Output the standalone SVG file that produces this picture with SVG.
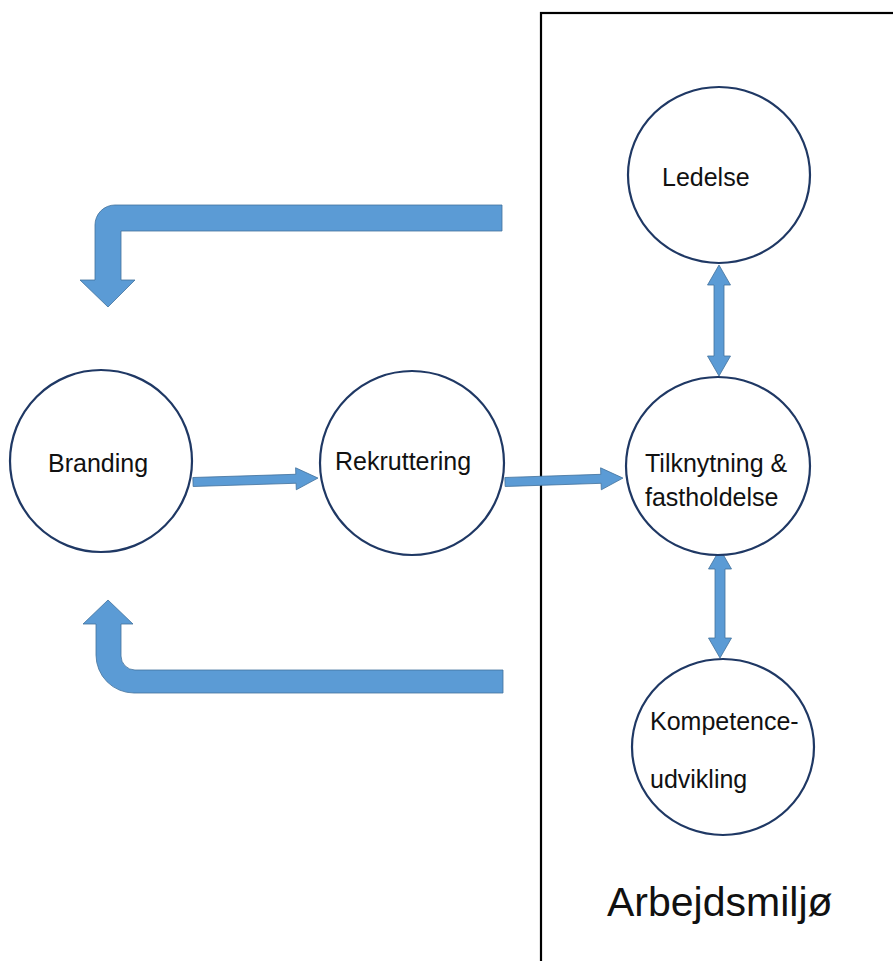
<svg xmlns="http://www.w3.org/2000/svg" width="893" height="961" viewBox="0 0 893 961">
<style>
.node{fill:#fff;stroke:#1f3864;stroke-width:2.2}
.lbl{font-family:"Liberation Sans",Arial,sans-serif;font-size:25px;fill:#111}
.arr{fill:#5b9bd5;stroke:#41719c;stroke-width:0.8}
.box{fill:none;stroke:#000;stroke-width:2.2}
</style>
<rect width="893" height="961" fill="#fff"/>
<g id="arbejdsmiljo">
<rect class="box" x="541" y="13" width="360" height="960"/>
<text x="607" y="916" style="font-family:'Liberation Sans',Arial,sans-serif;font-size:41px;fill:#111">Arbejdsmiljø</text>
</g>
<g id="connectors">
<path class="arr" d="M502,205 L115,205 A20,20 0 0 0 95,225 L95,280 L80,280 L108,307 L135,280 L121,280 L121,231 L502,231 Z"/>
<path class="arr" d="M503,670 L135,670 A14,14 0 0 1 121,656 L121,624 L133,624 L108,600 L83,624 L96,624 L96,655 A38,38 0 0 0 134,693 L503,693 Z"/>
<path class="arr" transform="rotate(-1.8 193 482)" d="M193,477.5 H296 V471 L318,482 L296,493 V486.5 H193 Z"/>
<path class="arr" transform="rotate(-1.9 505 482)" d="M505,477.5 H601 V471 L623,482 L601,493 V486.5 H505 Z"/>
<path class="arr" d="M719,265 L730.5,285 H724 V356 H730.5 L719,376 L707.5,356 H714 V285 H707.5 Z"/>
<path class="arr" d="M720,549 L731.5,569 H725 V638 H731.5 L720,658 L708.5,638 H715 V569 H708.5 Z"/>
</g>
<g id="branding">
<ellipse class="node" cx="101" cy="461" rx="91" ry="91"/>
<text class="lbl" x="48" y="472">Branding</text>
</g>
<g id="rekruttering">
<ellipse class="node" cx="412" cy="463" rx="92" ry="92"/>
<text class="lbl" x="335" y="470">Rekruttering</text>
</g>
<g id="ledelse">
<ellipse class="node" cx="719" cy="175" rx="91" ry="88"/>
<text class="lbl" x="662" y="186">Ledelse</text>
</g>
<g id="tilknytning">
<ellipse class="node" cx="718" cy="466" rx="92" ry="89"/>
<text class="lbl" x="645" y="472">Tilknytning &amp;</text>
<text class="lbl" x="645" y="506">fastholdelse</text>
</g>
<g id="kompetence">
<ellipse class="node" cx="723" cy="747" rx="91" ry="88"/>
<text class="lbl" x="650" y="730">Kompetence-</text>
<text class="lbl" x="650" y="788">udvikling</text>
</g>
</svg>
